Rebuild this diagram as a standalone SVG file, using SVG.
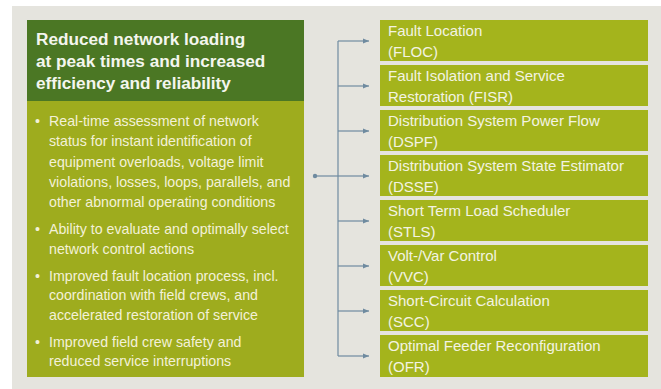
<svg xmlns="http://www.w3.org/2000/svg" width="661" height="389" viewBox="0 0 661 389">
<style>
.hdr{font-family:"Liberation Sans",Arial,sans-serif;font-weight:bold;font-size:17.2px;fill:#f4f6ee}
.bul{font-family:"Liberation Sans",Arial,sans-serif;font-size:14.2px;fill:#f3f1d8}
.box{fill:#a4b41c}
.lbl{font-family:"Liberation Sans",Arial,sans-serif;font-size:15px;fill:#f3f3e2}
.con{stroke:#6f8ba0;stroke-width:1.2;fill:none}
</style>
<defs>
<marker id="ah" viewBox="0 0 10 10" refX="10" refY="5" markerWidth="6" markerHeight="6" markerUnits="userSpaceOnUse" orient="auto">
<path d="M0,1 L10,5 L0,9 Z" fill="#6f8ba0"/>
</marker>
</defs>
<rect x="0" y="0" width="661" height="389" fill="#ffffff"/>
<rect x="12" y="6" width="649" height="383" fill="#e5e4de"/>
<g id="panel">
<rect x="27" y="20" width="277" height="357" fill="#9eac1e"/>
<rect x="27" y="20" width="277" height="81" fill="#4b7724"/>
<text class="hdr" x="36" y="45">Reduced network loading</text>
<text class="hdr" x="36" y="67">at peak times and increased</text>
<text class="hdr" x="36" y="89">efficiency and reliability</text>
<g class="bul">
<text x="35" y="126">•</text>
<text x="49" y="126">Real-time assessment of network</text>
<text x="49" y="146">status for instant identification of</text>
<text x="49" y="167">equipment overloads, voltage limit</text>
<text x="49" y="187">violations, losses, loops, parallels, and</text>
<text x="49" y="207">other abnormal operating conditions</text>
<text x="35" y="234">•</text>
<text x="49" y="234">Ability to evaluate and optimally select</text>
<text x="49" y="254">network control actions</text>
<text x="35" y="281">•</text>
<text x="49" y="281">Improved fault location process, incl.</text>
<text x="49" y="300">coordination with field crews, and</text>
<text x="49" y="320">accelerated restoration of service</text>
<text x="35" y="347">•</text>
<text x="49" y="347">Improved field crew safety and</text>
<text x="49" y="366">reduced service interruptions</text>
</g>
</g>
<g id="connectors">
<circle cx="315" cy="176" r="2.2" fill="#6f8ba0"/>
<line class="con" x1="315" y1="176" x2="338" y2="176"/>
<line class="con" x1="338" y1="41" x2="338" y2="356"/>
<line class="con" x1="338" y1="41" x2="369" y2="41" marker-end="url(#ah)"/>
<line class="con" x1="338" y1="86" x2="369" y2="86" marker-end="url(#ah)"/>
<line class="con" x1="338" y1="131" x2="369" y2="131" marker-end="url(#ah)"/>
<line class="con" x1="338" y1="176" x2="369" y2="176" marker-end="url(#ah)"/>
<line class="con" x1="338" y1="221" x2="369" y2="221" marker-end="url(#ah)"/>
<line class="con" x1="338" y1="266" x2="369" y2="266" marker-end="url(#ah)"/>
<line class="con" x1="338" y1="311" x2="369" y2="311" marker-end="url(#ah)"/>
<line class="con" x1="338" y1="356" x2="369" y2="356" marker-end="url(#ah)"/>
</g>
<g id="floc"><rect class="box" x="380" y="20" width="268" height="41"/><text class="lbl" x="388" y="36">Fault Location</text><text class="lbl" x="388" y="57">(FLOC)</text></g>
<g id="fisr"><rect class="box" x="380" y="65" width="268" height="41"/><text class="lbl" x="388" y="81">Fault Isolation and Service</text><text class="lbl" x="388" y="102">Restoration (FISR)</text></g>
<g id="dspf"><rect class="box" x="380" y="110" width="268" height="41"/><text class="lbl" x="388" y="126">Distribution System Power Flow</text><text class="lbl" x="388" y="147">(DSPF)</text></g>
<g id="dsse"><rect class="box" x="380" y="155" width="268" height="41"/><text class="lbl" x="388" y="171">Distribution System State Estimator</text><text class="lbl" x="388" y="192">(DSSE)</text></g>
<g id="stls"><rect class="box" x="380" y="200" width="268" height="41"/><text class="lbl" x="388" y="216">Short Term Load Scheduler</text><text class="lbl" x="388" y="237">(STLS)</text></g>
<g id="vvc"><rect class="box" x="380" y="245" width="268" height="41"/><text class="lbl" x="388" y="261">Volt-/Var Control</text><text class="lbl" x="388" y="282">(VVC)</text></g>
<g id="scc"><rect class="box" x="380" y="290" width="268" height="41"/><text class="lbl" x="388" y="306">Short-Circuit Calculation</text><text class="lbl" x="388" y="327">(SCC)</text></g>
<g id="ofr"><rect class="box" x="380" y="335" width="268" height="42"/><text class="lbl" x="388" y="351">Optimal Feeder Reconfiguration</text><text class="lbl" x="388" y="372">(OFR)</text></g>
</svg>
